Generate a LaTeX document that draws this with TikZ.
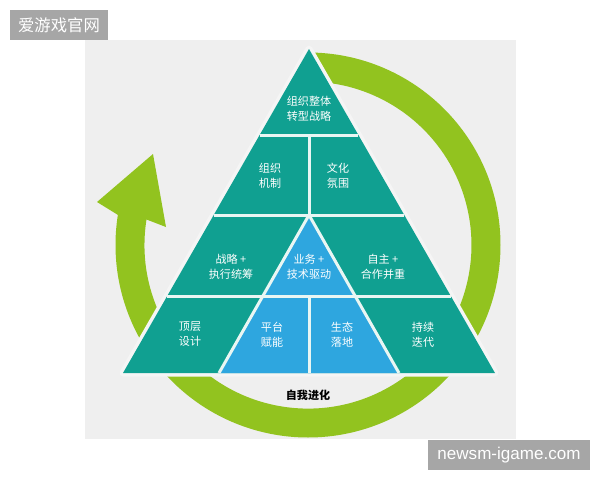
\documentclass[tikz,border=0pt]{standalone}
\usepackage{fontspec}
\newfontfamily\cjk{Noto Sans CJK SC}
\newfontfamily\latinsans{Liberation Sans}
\definecolor{pyteal}{HTML}{10A091}
\definecolor{pyblue}{HTML}{2EA6DF}
\definecolor{ringgreen}{HTML}{92C31F}
\definecolor{bggray}{HTML}{EFEFEF}
\definecolor{markgray}{HTML}{A6A6A6}
\definecolor{gapwhite}{HTML}{E9F6F3}
\usetikzlibrary{positioning}
\tikzset{
	celltext/.style={font=\cjk\fontsize{6.3}{8.5}\selectfont, text=white, align=center, inner sep=0pt}
}
\tikzset{
	marktext/.style={text=white, inner sep=0pt}
}
\tikzset{
	sepline/.style={gapwhite, line width=0.6mm}
}

\begin{document}
\begin{tikzpicture}[line join=round]
      \useasboundingbox (0,0) rectangle (12,9.6);

      % light gray panel
      \fill[bggray] (1.7,0.82) rectangle (10.32,8.8);

      % green ring, ends in the arrow head on the left
      \fill[ringgreen] (6.16,8.55) arc[start angle=90, end angle=-189, radius=3.85]
        -- (1.94,5.56) -- (3.06,6.52) -- (3.32,5.06)
        -- (2.93,5.21) arc[start angle=-189, end angle=90, radius=3.27] -- cycle;

      % gap round the pyramid
      \draw[bggray!60!white, line width=1.4mm] (6.18,8.62) -- (2.46,2.14) -- (9.90,2.14) -- cycle;

      % pyramid body and blue core
      \fill[pyteal] (6.18,8.62) -- (2.46,2.14) -- (9.90,2.14) -- cycle;
      \fill[pyblue] (6.18,5.3) -- (4.38,2.14) -- (7.98,2.14) -- cycle;

      % separators
      \foreach \y/\l/\r in {6.9/5.192/7.168, 5.3/4.274/8.086, 3.68/3.344/9.016} {
        \draw[sepline] (\l,\y) -- (\r,\y);
      }
      \draw[sepline] (6.18,6.9) -- (6.18,5.3);
      \draw[sepline] (6.18,3.68) -- (6.18,2.14);
      \draw[sepline] (4.38,2.14) -- (6.18,5.3) -- (7.98,2.14);

      % cell labels
      \node[celltext] (whole) at (6.18,7.42) {组织整体\\转型战略};
      \node[celltext] (mech) at (5.40,6.09) {组织\\机制};
      \node[celltext] (culture) at (6.76,6.09) {文化\\氛围};
      \node[celltext] (strategy) at (4.62,4.26) {战略 +\\执行统筹};
      \node[celltext] (business) at (6.18,4.26) {业务 +\\技术驱动};
      \node[celltext] (autonomy) at (7.66,4.26) {自主 +\\合作并重};
      \node[celltext] (design) at (3.80,2.91) {顶层\\设计};
      \node[celltext] (platform) at (5.44,2.91) {平台\\赋能};
      \node[celltext] (ecology) at (6.84,2.91) {生态\\落地};
      \node[celltext] (iterate) at (8.46,2.91) {持续\\迭代};
      \node[font=\cjk\bfseries\fontsize{6.3}{8}\selectfont, inner sep=0pt] (evolve) at (6.16,1.7) {自我进化};

      % watermarks
      \fill[markgray] (0.2,8.8) rectangle (2.16,9.4);
      \node[marktext, font=\cjk\fontsize{9.3}{11}\selectfont] (mark) at (1.18,9.1) {爱游戏官网};
      \fill[markgray] (8.56,0.2) rectangle (11.8,0.8);
      \node[marktext, font=\latinsans\fontsize{9.7}{11}\selectfont] (site) at (10.18,0.5) {newsm-igame.com};
    \end{tikzpicture}
\end{document}
